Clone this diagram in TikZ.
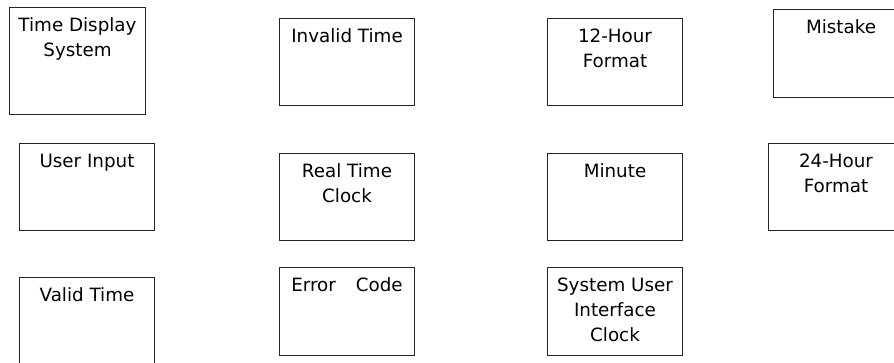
\documentclass[tikz,border=0pt]{standalone}
\usepackage{fontspec}
\setmainfont{DejaVu Sans}
\usetikzlibrary{calc}
\tikzset{
  box/.style={draw=black!85, line width=1pt, rectangle, anchor=north west, inner sep=0pt},
  lbl/.style={anchor=base, inner sep=0pt, align=center, font=\fontsize{18.3}{25}\selectfont},
}
% label inside a box: first baseline 24pt below the top edge;
% optional argument = number of lines (the base anchor sits on the last line)
\newcommand{\boxlabel}[3][1]{\node[lbl] (#2-t) at ($(#2.north)+(0,{24+25*(#1-1)})$) {#3};}
\begin{document}
\begin{tikzpicture}[x=1pt,y=-1pt]
  \useasboundingbox (0,0) rectangle (894,362);
  % first column
  \node[box, minimum width=136, minimum height=107] (tds) at (9,7) {};
  \node[box, minimum width=135, minimum height=87] (ui) at (19,143) {};
  \node[box, minimum width=135, minimum height=95] (vt) at (19,277) {};
  % second column
  \node[box, minimum width=135, minimum height=87] (it) at (279,18) {};
  \node[box, minimum width=135, minimum height=87] (rtc) at (279,153) {};
  \node[box, minimum width=135, minimum height=88] (ec) at (279,267) {};
  % third column
  \node[box, minimum width=135, minimum height=87] (h12) at (547,18) {};
  \node[box, minimum width=135, minimum height=87] (mn) at (547,153) {};
  \node[box, minimum width=135, minimum height=88] (sui) at (547,267) {};
  % fourth column
  \node[box, minimum width=135, minimum height=88] (mis) at (773,9) {};
  \node[box, minimum width=135, minimum height=87] (h24) at (768,143) {};
  % labels
  \boxlabel[2]{tds}{Time Display\\System}
  \boxlabel{ui}{User Input}
  \boxlabel{vt}{Valid Time}
  \boxlabel{it}{Invalid Time}
  \boxlabel[2]{rtc}{Real Time\\Clock}
  \boxlabel{ec}{Error\hspace{20pt}Code}
  \boxlabel[2]{h12}{12-Hour\\Format}
  \boxlabel{mn}{Minute}
  \boxlabel[3]{sui}{System User\\Interface\\Clock}
  \boxlabel{mis}{Mistake}
  \boxlabel[2]{h24}{24-Hour\\Format}
\end{tikzpicture}
\end{document}
